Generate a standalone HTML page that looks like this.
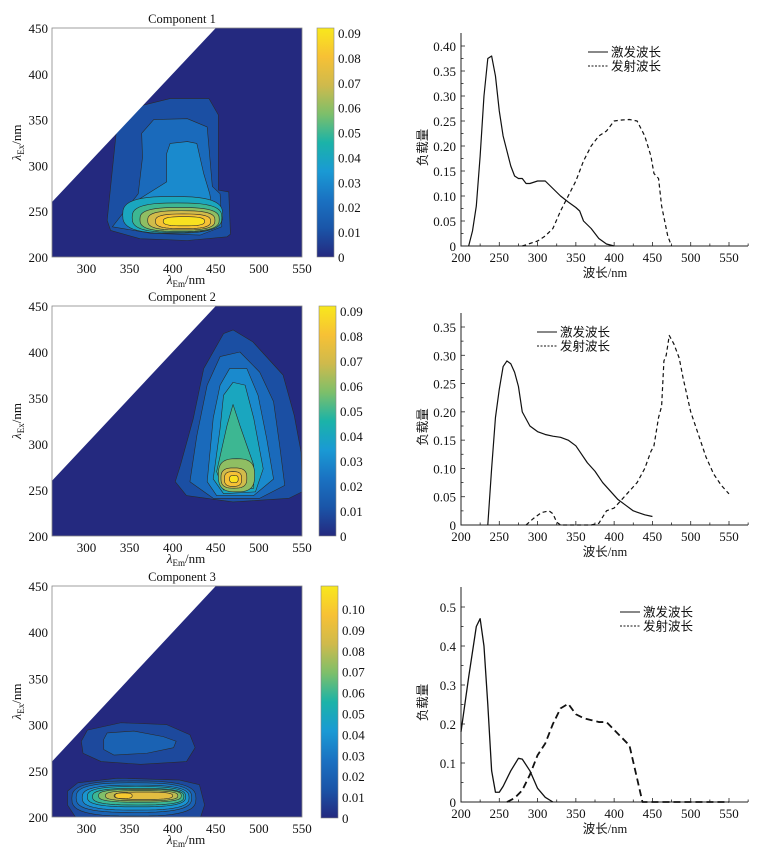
<!DOCTYPE html>
<html><head><meta charset="utf-8"><style>
body{margin:0;background:#fff}
svg{display:block}
text{font-family:"Liberation Serif","Noto Serif CJK SC",serif;fill:#111}
.cjk{font-family:"Liberation Serif","Noto Sans CJK SC",sans-serif}
</style></head><body>
<svg id="svg" width="774" height="860" viewBox="0 0 774 860" xmlns="http://www.w3.org/2000/svg"></svg>
<script>
// ---------- data ----------
const parulaStops = ["#24297f","#1a55a8","#1a72c2","#1a9ad4","#1bb3a8","#7dbf6a","#cfba4c","#f7c135","#f8e81c"];
const c1Poly = [
 [0.01,[[324,240],[337,359],[397,373],[442,373],[453,355],[453,273],[465,271],[467,225],[463,222],[417,218],[362,220],[328,229]]],
 [0.02,[[364,335],[378,350],[417,351],[440,342],[446,277],[455,269],[457,233],[432,224],[374,226],[330,233],[360,269],[365,309]]],
 [0.03,[[397,324],[417,326],[428,324],[436,291],[443,269],[447,247],[432,229],[374,229],[343,240],[359,262],[393,282],[393,313]]]
];
const c1Ell = [[0.04,400,246,58,20],[0.05,405,243,52,16],[0.06,408,241,46,13],[0.07,410,240,39,10.5],[0.08,412,239,32,8],[0.09,413,239,24,5]];
const c2Poly = [
 [0.01,[[403,259],[409,277],[424,328],[436,382],[459,420],[470,424],[493,411],[528,375],[541,331],[549,291],[550,248],[535,241],[470,237],[416,244]]],
 [0.02,[[420,259],[428,309],[440,364],[455,395],[478,400],[501,378],[517,346],[524,299],[530,255],[501,241],[447,241]]],
 [0.03,[[440,259],[447,328],[455,364],[466,382],[486,382],[499,353],[509,306],[517,262],[494,244],[451,244]]],
 [0.04,[[447,262],[455,317],[459,353],[470,367],[484,364],[494,328],[505,273],[496,248],[459,246]]],
 [0.05,[[451,270],[463,320],[470,343],[478,320],[494,277],[494,252],[459,250]]]
];
const c2Ell = [[0.06,474,266,21,18],[0.07,471,263,15,11],[0.08,470,262,10,8],[0.09,471,262,5,4]];
const c3Poly = [
 [0.01,[[294,282],[301,294],[340,302],[393,300],[420,289],[426,275],[416,260],[363,257],[317,260],[296,269]]],
 [0.02,[[320,284],[324,291],[355,293],[389,287],[404,282],[401,275],[370,269],[332,267],[320,273]]],
 [0.01,[[278,228],[290,237],[336,242],[408,240],[431,235],[437,213],[431,196],[290,196],[278,213]]]
];
const c3Ell = [[0.02,355,220,72,19],[0.03,355,221,67,16],[0.04,357,221,62,13.5],[0.05,358,222,57,11],[0.06,360,222,53,9],[0.07,362,223,48,7],[0.08,364,223,42,5.5],[0.09,366,223,34,4],[0.10,343,223,10,3]];
const cbTicks12 = ["0","0.01","0.02","0.03","0.04","0.05","0.06","0.07","0.08","0.09"];
const cbTicks3 = ["0","0.01","0.02","0.03","0.04","0.05","0.06","0.07","0.08","0.09","0.10"];
const emTicks = [300,350,400,450,500,550];
const exTicks = [200,250,300,350,400,450];
const wlTicks = [200,250,300,350,400,450,500,550];
const ex1 = [[210,0],[215,0.03],[220,0.08],[225,0.18],[230,0.3],[235,0.375],[240,0.38],[245,0.34],[250,0.27],[255,0.22],[260,0.19],[265,0.16],[270,0.14],[275,0.135],[280,0.135],[285,0.125],[290,0.125],[300,0.13],[310,0.13],[320,0.115],[330,0.1],[340,0.088],[350,0.077],[355,0.07],[360,0.05],[370,0.035],[380,0.015],[390,0.004],[400,0]];
const em1 = [[280,0],[290,0.005],[300,0.01],[310,0.02],[320,0.035],[330,0.07],[340,0.1],[350,0.13],[360,0.17],[370,0.2],[380,0.22],[390,0.23],[400,0.25],[410,0.252],[420,0.253],[430,0.25],[440,0.22],[448,0.18],[452,0.145],[458,0.135],[462,0.08],[470,0.02],[475,0]];
const ex2 = [[235,0],[240,0.1],[245,0.19],[250,0.24],[255,0.28],[260,0.29],[265,0.285],[270,0.27],[275,0.245],[280,0.2],[290,0.175],[300,0.165],[310,0.16],[320,0.157],[330,0.155],[340,0.15],[350,0.14],[355,0.13],[365,0.11],[375,0.095],[385,0.075],[395,0.06],[405,0.045],[415,0.035],[425,0.025],[440,0.018],[450,0.015]];
const em2 = [[285,0],[295,0.012],[305,0.022],[315,0.025],[320,0.02],[325,0.005],[330,0],[370,0],[380,0.003],[390,0.025],[400,0.03],[410,0.045],[420,0.06],[430,0.075],[440,0.1],[448,0.13],[452,0.14],[458,0.19],[462,0.21],[465,0.29],[468,0.3],[472,0.335],[478,0.32],[485,0.295],[490,0.26],[500,0.2],[510,0.16],[520,0.12],[530,0.09],[540,0.07],[550,0.055]];
const ex3 = [[200,0.18],[210,0.32],[220,0.45],[225,0.47],[230,0.4],[235,0.25],[240,0.08],[245,0.025],[250,0.025],[255,0.04],[265,0.08],[275,0.112],[280,0.11],[290,0.08],[300,0.035],[310,0.012],[320,0]];
const em3 = [[260,0],[270,0.01],[280,0.03],[290,0.07],[300,0.12],[310,0.15],[320,0.2],[330,0.24],[340,0.252],[350,0.225],[360,0.215],[370,0.21],[380,0.205],[390,0.205],[400,0.185],[410,0.165],[420,0.145],[430,0.06],[437,0],[550,0]];
const yTicks1 = ["0","0.05","0.10","0.15","0.20","0.25","0.30","0.35","0.40"];
const yTicks2 = ["0","0.05","0.10","0.15","0.20","0.25","0.30","0.35"];
const yTicks3 = ["0","0.1","0.2","0.3","0.4","0.5"];

// ---------- helpers ----------
const svg=document.getElementById('svg');const NS="http://www.w3.org/2000/svg";
function mk(tag,attrs,parent,txt){const e=document.createElementNS(NS,tag);for(const k in attrs)e.setAttribute(k,attrs[k]);if(txt!==undefined)e.textContent=txt;(parent||svg).appendChild(e);return e;}
function hex(h){return [1,3,5].map(i=>parseInt(h.substr(i,2),16));}
function cmap(t){t=Math.max(0,Math.min(1,t));const n=parulaStops.length-1;const i=Math.min(n-1,Math.floor(t*n));const f=t*n-i;const a=hex(parulaStops[i]),b=hex(parulaStops[i+1]);return 'rgb('+a.map((v,k)=>Math.round(v+(b[k]-v)*f)).join(',')+')';}

function contour(o){
 const {top,bot,cbx,cbTop,cbBot,cmax,polys,ells,ticks,title,idx}=o;
 const L=52,R=302;
 const X=em=>L+(em-260)/(550-260)*(R-L);
 const Y=ex=>bot-(ex-200)/(250)*(bot-top);
 const g=mk('g',{});
 const cid='clip'+idx;const cp=mk('clipPath',{id:cid},g);mk('rect',{x:L,y:top,width:R-L,height:bot-top},cp);
 const bg=mk('rect',{x:L,y:top,width:R-L,height:bot-top,fill:cmap(0)},g);
 
 const cg=mk('g',{'clip-path':'url(#'+cid+')'},g);
 polys.forEach(p=>{const e=mk('polygon',{points:p[1].map(q=>X(q[0])+','+Y(q[1])).join(' '),fill:cmap(p[0]/cmax),stroke:'#2a2a2a','stroke-width':0.6,'stroke-linejoin':'round'},cg);
  });
 ells.forEach(p=>{const pts=[];for(let k=0;k<48;k++){const a=k/48*2*Math.PI;const c=Math.cos(a),s=Math.sin(a);const px=Math.sign(c)*Math.pow(Math.abs(c),0.7),py=Math.sign(s)*Math.pow(Math.abs(s),0.7);pts.push(X(p[1]+p[3]*px)+','+Y(p[2]+p[4]*py));}
  const e=mk('polygon',{points:pts.join(' '),fill:cmap(p[0]/cmax),stroke:'#2a2a2a','stroke-width':0.6},cg);
  });
 const w=mk('polygon',{points:[X(260)+','+Y(260),X(260)+','+Y(450),X(450)+','+Y(450)].join(' '),fill:'#fff'},cg);
 
 mk('rect',{x:L,y:top,width:R-L,height:bot-top,fill:'none',stroke:'#888','stroke-width':0.8},g);
 emTicks.forEach(v=>{const t=mk('text',{x:X(v),y:bot+16,'text-anchor':'middle','font-size':13},g,v);});
 exTicks.forEach(v=>{const t=mk('text',{x:L-4,y:Y(v)+5,'text-anchor':'end','font-size':13},g,v);});
 const tt=mk('text',{x:182,y:top-5,'text-anchor':'middle','font-size':12.5},g,title);
 const xl=mk('text',{x:186,y:bot+27,'text-anchor':'middle','font-size':13},g);
 mk('tspan',{'font-style':'italic'},xl,'λ');mk('tspan',{dy:3,'font-size':9},xl,'Em');mk('tspan',{dy:-3},xl,'/nm');
 const yc=(top+bot)/2;const yl=mk('text',{x:0,y:0,'text-anchor':'middle','font-size':13,transform:'translate(21,'+yc+') rotate(-90)'},g);
 mk('tspan',{'font-style':'italic'},yl,'λ');mk('tspan',{dy:3,'font-size':9},yl,'Ex');mk('tspan',{dy:-3},yl,'/nm');
 const gid='grad'+idx;const gr=mk('linearGradient',{id:gid,x1:0,y1:1,x2:0,y2:0},g);
 parulaStops.forEach((c,i)=>mk('stop',{offset:i/(parulaStops.length-1),'stop-color':c},gr));
 const cb=mk('rect',{x:cbx,y:cbTop,width:17,height:cbBot-cbTop,fill:'url(#'+gid+')',stroke:'#888','stroke-width':0.6},g);
 
 ticks.forEach((s,i)=>{const v=i*0.01;const y=cbBot-v/cmax*(cbBot-cbTop);const t=mk('text',{x:cbx+21,y:y+5,'font-size':13},g,s);});
}

function lineChart(o){
 const {bot,ymaxPx,ymaxV,axisTop,series,ticks,tstep,leg,idx}=o;
 const L=461,R=729,xend=748;
 const X=v=>L+(v-200)/350*(R-L);
 const Y=v=>bot-v/ymaxV*(bot-ymaxPx);
 const g=mk('g',{});
 const ax=mk('path',{d:`M${L},${axisTop}V${bot}H${xend}`,fill:'none',stroke:'#222','stroke-width':1},g);
 for(let v=200;v<=575;v+=25){mk('line',{x1:X(v),x2:X(v),y1:bot,y2:bot-(v%50===0?4:2.5),stroke:'#222','stroke-width':0.8},g);}
 wlTicks.forEach(v=>{const t=mk('text',{x:X(v),y:bot+16,'text-anchor':'middle','font-size':13},g,v);});
 ticks.forEach((s,i)=>{const y=Y(i*tstep);mk('line',{x1:L,x2:L+4,y1:y,y2:y,stroke:'#222','stroke-width':0.8},g);
  if(i>0)mk('line',{x1:L,x2:L+2.5,y1:Y((i-0.5)*tstep),y2:Y((i-0.5)*tstep),stroke:'#222','stroke-width':0.8},g);
  const t=mk('text',{x:L-5,y:y+5,'text-anchor':'end','font-size':13},g,s);});
 series.forEach(s=>{const p=mk('polyline',{points:s.d.map(q=>X(q[0])+','+Y(q[1])).join(' '),fill:'none',stroke:'#111','stroke-width':s.w,'stroke-dasharray':s.dash||'none','stroke-linejoin':'round'},g);
  });
 const xl=mk('text',{x:605,y:bot+31,'text-anchor':'middle','font-size':12.5,'class':'cjk'},g,'波长/nm');
 const yc=(axisTop+bot)/2+8;const yl=mk('text',{x:0,y:0,'text-anchor':'middle','font-size':12.5,'class':'cjk',transform:`translate(427,${yc}) rotate(-90)`},g,'负载量');
 const lg=mk('g',{},g);
 mk('line',{x1:leg[0],x2:leg[0]+20,y1:leg[1],y2:leg[1],stroke:'#111','stroke-width':1},lg);
 mk('text',{x:leg[0]+23,y:leg[1]+4.5,'font-size':12.5,'class':'cjk'},lg,'激发波长');
 mk('line',{x1:leg[0],x2:leg[0]+20,y1:leg[1]+14,y2:leg[1]+14,stroke:'#111','stroke-width':1,'stroke-dasharray':'2,1.5'},lg);
 mk('text',{x:leg[0]+23,y:leg[1]+18.5,'font-size':12.5,'class':'cjk'},lg,'发射波长');
}

contour({idx:1,top:28,bot:257,cbx:317,cbTop:28,cbBot:257,cmax:0.092,polys:c1Poly,ells:c1Ell,ticks:cbTicks12,title:'Component 1'});
contour({idx:2,top:306,bot:536,cbx:319,cbTop:306,cbBot:536,cmax:0.092,polys:c2Poly,ells:c2Ell,ticks:cbTicks12,title:'Component 2'});
contour({idx:3,top:586,bot:817,cbx:321,cbTop:586,cbBot:818,cmax:0.111,polys:c3Poly,ells:c3Ell,ticks:cbTicks3,title:'Component 3'});

lineChart({idx:1,bot:246,ymaxPx:46,ymaxV:0.40,axisTop:33,ticks:yTicks1,tstep:0.05,leg:[588,52],series:[{d:ex1,w:1.2,name:'excitation-line'},{d:em1,w:1.2,dash:'4,3',name:'emission-line'}]});
lineChart({idx:2,bot:525,ymaxPx:327,ymaxV:0.35,axisTop:313,ticks:yTicks2,tstep:0.05,leg:[537,332],series:[{d:ex2,w:1.2,name:'excitation-line'},{d:em2,w:1.2,dash:'4,3',name:'emission-line'}]});
lineChart({idx:3,bot:802,ymaxPx:607,ymaxV:0.5,axisTop:587,ticks:yTicks3,tstep:0.1,leg:[620,612],series:[{d:ex3,w:1.3,name:'excitation-line'},{d:em3,w:1.8,dash:'7,4',name:'emission-line'}]});
</script>
</body></html>
